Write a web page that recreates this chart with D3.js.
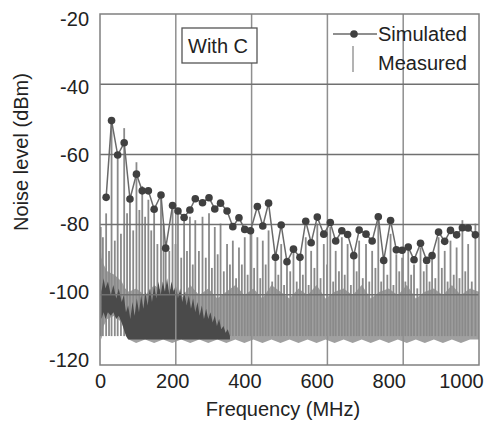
<!DOCTYPE html>
<html><head><meta charset="utf-8">
<script src="https://cdn.jsdelivr.net/npm/d3@7"></script>
<style>body{margin:0;background:#fff}svg{display:block;font-family:"Liberation Sans",Arial,sans-serif}</style>
</head><body><svg id="c" width="486" height="421"></svg>
<script>
// ---- data ----
const xTicks = [0, 200, 400, 600, 800, 1000];
const yTicks = [-120, -100, -80, -60, -40, -20];

const simFreq = [17,32,49,67,83,101,117,134,150,169,182,201,216,233,249,264,284,302,318,334,352,368,385,401,417,436,451,467,486,502,518,536,554,570,585,602,620,638,653,670,686,703,718,737,754,771,786,805,821,837,854,870,888,905,920,938,955,971,988,1004,1020,1040];
const simValue = [-72.3,-49.8,-59.9,-56.3,-72.8,-65.5,-70.4,-70.4,-75.8,-71.6,-87.2,-74.7,-76.3,-78.2,-76.0,-72.7,-73.9,-72.4,-75.7,-74.0,-76.3,-80.9,-78.3,-81.7,-82.1,-75.0,-80.7,-74.0,-89.9,-80.4,-91.2,-87.5,-89.9,-79.3,-85.6,-78.1,-83.1,-79.7,-85.1,-82.1,-83.2,-89.4,-81.9,-83.1,-85.1,-78.0,-90.8,-79.1,-87.7,-87.8,-86.9,-90.6,-85.8,-90.8,-89.4,-82.5,-85.2,-82.0,-83.3,-81.2,-81.3,-83.3];

// measured: tall tones
const toneFreq = [17,32,49,67,83,101,117,134,150,169,182,201,216,233,249,264,284,302,318,334,352,368,385,401,417,436,451,467,486,502,518,536,554,570,585,602,620,638,653,670,686,703,718,737,754,771,786,805,821,837,854,870,888,905,920,938,955,971,988,1004,1020,1040];
const tonePeak = [-77,-50,-60,-52,-72,-62,-69,-73,-76,-72,-87,-75,-77,-79,-78,-79,-78,-77,-81,-80,-86,-85,-87,-84,-83,-84,-85,-82,-91,-86,-90,-88,-91,-84,-88,-80,-86,-81,-88,-84,-86,-90,-85,-86,-88,-79,-91,-83,-89,-90,-88,-92,-87,-92,-90,-84,-88,-85,-87,-79,-86,-80];
// measured: in-between tones
const midFreq = [2,8,25,41,58,75,92,109,125,142,159,176,192,209,225,241,257,274,293,310,326,343,360,377,393,409,427,444,459,477,494,510,527,545,562,578,594,611,629,646,662,678,695,711,728,746,763,779,796,813,829,846,862,879,897,913,929,947,963,980,996,1012,1030];
const midPeak = [-81,-84,-88,-85,-83,-77,-82,-76,-78,-82,-86,-80,-88,-86,-90,-88,-92,-88,-90,-93,-89,-94,-92,-96,-92,-95,-93,-96,-92,-97,-95,-98,-94,-97,-95,-98,-93,-96,-92,-97,-94,-95,-98,-94,-96,-97,-93,-97,-95,-98,-94,-97,-95,-99,-94,-97,-96,-93,-97,-95,-96,-94,-97];
// measured noise floor band
const floorFreq = [0,4,10,20,40,60,70,80,100,125,150,175,200,225,250,275,300,325,350,375,400,425,450,475,500,525,550,575,600,625,650,675,700,725,750,775,800,825,850,875,900,925,950,975,1000,1025,1050];
const floorTop  = [-84,-90,-92,-94,-95,-97,-99,-100,-99,-101,-98,-100,-99,-102,-98,-101,-99,-102,-100,-98,-101,-99,-102,-98,-100,-102,-99,-101,-98,-102,-100,-99,-101,-98,-102,-100,-99,-101,-98,-102,-100,-99,-101,-98,-101,-99,-100];
const floorBot  = [-112,-114,-110,-108,-107,-109,-112,-114,-115,-114,-115,-114,-115,-114,-115,-114,-115,-114,-115,-114,-115,-114,-115,-114,-115,-114,-115,-114,-115,-114,-115,-114,-115,-114,-115,-114,-115,-114,-115,-114,-115,-114,-115,-114,-115,-114,-114];
// measured dark hump
const humpFreq = [4,10,15,22,30,37,45,52,60,66,72,78,84,90,96,102,108,114,120,126,132,138,144,150,156,162,168,174,180,186,192,198,204,210,216,222,228,234,240,246,252,258,264,270,276,282,288,294,300,306,312,318,324,330,336,342,348,354,360];
const humpTop  = [-100,-96,-99,-97,-101,-98,-102,-99,-103,-101,-106,-104,-108,-103,-107,-102,-106,-101,-105,-100,-104,-99,-103,-98,-102,-97,-101,-97,-100,-96,-101,-97,-100,-98,-102,-99,-103,-100,-104,-101,-105,-102,-106,-103,-107,-104,-108,-105,-108,-106,-109,-107,-110,-108,-111,-110,-112,-111,-113];
const humpBot  = [-108,-106,-108,-106,-107,-106,-108,-107,-109,-111,-113,-114,-114,-114,-114,-114,-114,-114,-114,-114,-114,-114,-114,-114,-114,-114,-114,-114,-114,-114,-114,-114,-114,-114,-114,-114,-114,-114,-114,-114,-114,-114,-114,-114,-114,-114,-114,-114,-114,-114,-114,-114,-114,-114,-114,-114,-114,-114,-114];

// ---- chart ----
const svg = d3.select("#c");
const L = 100, R = 479, T = 14, B = 365;
const x = d3.scaleLinear().domain([0, 1050]).range([L, R]);
const y = d3.scaleLinear().domain([-121.47, -18.53]).range([B, T]);
const FONT = "Liberation Sans, Arial, sans-serif";

svg.append("defs").append("clipPath").attr("id","clip")
  .append("rect").attr("x",L).attr("y",T).attr("width",R-L).attr("height",B-T);
const plot = svg.append("g").attr("clip-path","url(#clip)");

// noise floor band
const floorData = floorFreq.map((f,i)=>({f, t:floorTop[i], b:floorBot[i]}));
plot.append("path").datum(floorData)
  .attr("d", d3.area().x(d=>x(d.f)).y0(d=>y(d.b)).y1(d=>y(d.t)))
  .attr("fill","#a0a0a0");
// spikes
const spikes = toneFreq.map((f,i)=>({f, p:tonePeak[i]})).concat(midFreq.map((f,i)=>({f, p:midPeak[i]})));
plot.selectAll("line.sp").data(spikes).join("line").attr("class","sp")
  .attr("x1",d=>x(d.f)).attr("x2",d=>x(d.f))
  .attr("y1",y(-113)).attr("y2",d=>y(d.p))
  .attr("stroke","#8a8a8a").attr("stroke-width",1.8);
// dark hump
const humpData = humpFreq.map((f,i)=>({f, t:humpTop[i], b:humpBot[i]}));
plot.append("path").datum(humpData)
  .attr("d", d3.area().x(d=>x(d.f)).y0(d=>y(d.b)).y1(d=>y(d.t)))
  .attr("fill","#4a4a4a");

// grid (5 equal divisions)
const gx = d3.scaleLinear().domain([0,5]).range([L,R]);
const gy = d3.scaleLinear().domain([0,5]).range([T,B]);
svg.append("g").selectAll("line").data([1,2,3,4]).join("line")
  .attr("x1",d=>gx(d)).attr("x2",d=>gx(d)).attr("y1",T).attr("y2",B)
  .attr("stroke","#8f8f8f").attr("stroke-width",1.5);
svg.append("g").selectAll("line").data([1,2,3,4]).join("line")
  .attr("y1",d=>gy(d)).attr("y2",d=>gy(d)).attr("x1",L).attr("x2",R)
  .attr("stroke","#707070").attr("stroke-width",1.5);
svg.append("rect").attr("x",L).attr("y",T).attr("width",R-L).attr("height",B-T)
  .attr("fill","none").attr("stroke","#808080").attr("stroke-width",1.5);

// simulated
const simData = simFreq.map((f,i)=>({f, v:simValue[i]}));
svg.append("path").datum(simData)
  .attr("d", d3.line().x(d=>x(d.f)).y(d=>y(d.v)))
  .attr("fill","none").attr("stroke","#6a6a6a").attr("stroke-width",1.5);
svg.append("g").selectAll("circle").data(simData).join("circle")
  .attr("cx",d=>x(d.f)).attr("cy",d=>y(d.v)).attr("r",3.8).attr("fill","#404040");

// axes
const xAxis = svg.append("g").attr("transform",`translate(0,${B})`)
  .call(d3.axisBottom(x).tickValues(xTicks).tickSize(0).tickPadding(9).tickFormat(d=>String(d)));
xAxis.select(".domain").remove();
xAxis.selectAll("text").attr("font-size",20).attr("fill","#222").attr("font-family",FONT);
const yAxis = svg.append("g").attr("transform",`translate(${L},0)`)
  .call(d3.axisLeft(y).tickValues(yTicks).tickSize(0).tickPadding(11).tickFormat(d=>String(d)));
yAxis.select(".domain").remove();
yAxis.selectAll("text").attr("font-size",20).attr("fill","#222").attr("font-family",FONT);

svg.append("text").attr("x",283).attr("y",416).attr("text-anchor","middle")
  .attr("font-size",20).attr("fill","#222").text("Frequency (MHz)");
svg.append("text").attr("transform","translate(28,152) rotate(-90)").attr("text-anchor","middle")
  .attr("font-size",20).attr("fill","#222").text("Noise level (dBm)");

// label box
svg.append("rect").attr("x",182).attr("y",28).attr("width",75).attr("height",35)
  .attr("fill","#fff").attr("stroke","#555").attr("stroke-width",1.3);
svg.append("text").attr("x",188).attr("y",53).attr("font-size",20).attr("fill","#222").text("With C");

// legend
svg.append("line").attr("x1",333).attr("x2",377).attr("y1",34).attr("y2",34)
  .attr("stroke","#6a6a6a").attr("stroke-width",1.5);
svg.append("circle").attr("cx",354).attr("cy",34).attr("r",3.8).attr("fill","#404040");
svg.append("text").attr("x",378).attr("y",41).attr("font-size",20).attr("fill","#222").text("Simulated");
svg.append("line").attr("x1",353).attr("x2",353).attr("y1",46).attr("y2",72)
  .attr("stroke","#9a9a9a").attr("stroke-width",1.5);
svg.append("text").attr("x",378).attr("y",70).attr("font-size",20).attr("fill","#222").text("Measured");
</script></body></html>
